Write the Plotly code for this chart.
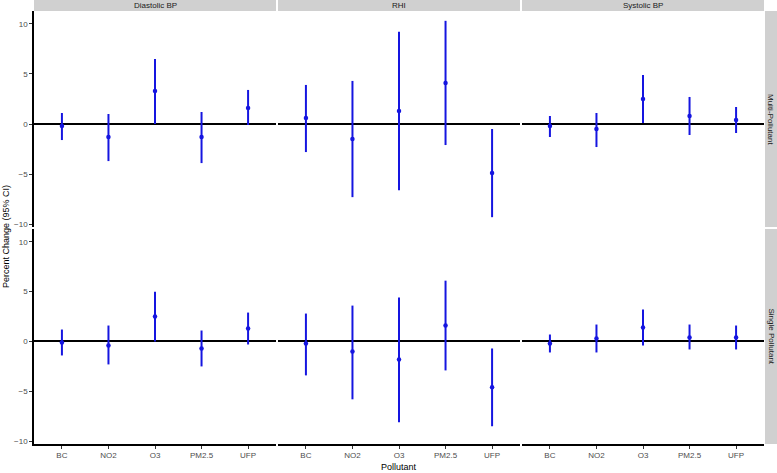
import plotly.graph_objects as go

pollutants = ["BC", "NO2", "O3", "PM2.5", "UFP"]
outcomes = ["Diastolic BP", "RHI", "Systolic BP"]
models = ["Multi-Pollutant", "Single Pollutant"]

# multi-pollutant models
dia_multi_est = [-0.2, -1.3, 3.3, -1.3, 1.6]
dia_multi_lo = [-1.6, -3.7, 0.0, -3.9, -0.1]
dia_multi_hi = [1.1, 1.0, 6.5, 1.2, 3.4]

rhi_multi_est = [0.6, -1.5, 1.3, 4.1, -4.9]
rhi_multi_lo = [-2.8, -7.3, -6.6, -2.1, -9.3]
rhi_multi_hi = [3.9, 4.3, 9.2, 10.3, -0.5]

sys_multi_est = [-0.2, -0.5, 2.5, 0.8, 0.4]
sys_multi_lo = [-1.3, -2.3, 0.1, -1.1, -0.9]
sys_multi_hi = [0.8, 1.1, 4.9, 2.7, 1.7]

# single-pollutant models
dia_single_est = [-0.1, -0.4, 2.5, -0.7, 1.3]
dia_single_lo = [-1.4, -2.3, 0.0, -2.5, -0.3]
dia_single_hi = [1.2, 1.6, 5.0, 1.1, 2.9]

rhi_single_est = [-0.2, -1.0, -1.8, 1.6, -4.6]
rhi_single_lo = [-3.4, -5.8, -8.1, -2.9, -8.5]
rhi_single_hi = [2.8, 3.6, 4.4, 6.1, -0.7]

sys_single_est = [-0.2, 0.3, 1.4, 0.4, 0.4]
sys_single_lo = [-1.1, -1.1, -0.4, -0.8, -0.8]
sys_single_hi = [0.7, 1.7, 3.2, 1.7, 1.6]

panels = {
    (0, 0): (dia_multi_est, dia_multi_lo, dia_multi_hi),
    (0, 1): (rhi_multi_est, rhi_multi_lo, rhi_multi_hi),
    (0, 2): (sys_multi_est, sys_multi_lo, sys_multi_hi),
    (1, 0): (dia_single_est, dia_single_lo, dia_single_hi),
    (1, 1): (rhi_single_est, rhi_single_lo, rhi_single_hi),
    (1, 2): (sys_single_est, sys_single_lo, sys_single_hi),
}

W, H = 777, 473
ML, MB = 34, 29
PW, PH = W - ML, H - MB
col_px = [(34, 276), (278, 520), (522, 764)]
row_px = [(11, 227), (229, 444)]
strip_x = (765, 777)
strip_y = (0, 11)


def fx(px):
    return (px - ML) / PW


def fy(py):
    return (H - MB - py) / PH


all_lo = min(min(v[1]) for v in panels.values())
all_hi = max(max(v[2]) for v in panels.values())
span = all_hi - all_lo
yrange = [all_lo - 0.05 * span, all_hi + 0.05 * span]

blue = "#1515e0"
font_name = "Liberation Sans, Arial"
tick_font = dict(family=font_name, size=8, color="#4d4d4d")

fig = go.Figure()
layout = {}
shapes = []
annotations = []

for (r, c), (est, lo, hi) in panels.items():
    idx = r * 3 + c + 1
    xa = "x" if idx == 1 else f"x{idx}"
    ya = "y" if idx == 1 else f"y{idx}"
    fig.add_trace(go.Scatter(
        x=pollutants, y=est, xaxis=xa, yaxis=ya, mode="markers",
        marker=dict(color=blue, size=4.5),
        error_y=dict(type="data", symmetric=False,
                     array=[h - e for h, e in zip(hi, est)],
                     arrayminus=[e - l for e, l in zip(est, lo)],
                     color=blue, thickness=2, width=0),
        showlegend=False,
    ))
    left = c == 0
    bottom = r == 1
    layout["xaxis" if idx == 1 else f"xaxis{idx}"] = dict(
        domain=[fx(col_px[c][0]), fx(col_px[c][1])],
        anchor=ya, type="category", range=[-0.6, 4.6],
        showgrid=False, zeroline=False,
        showticklabels=bottom, ticks="outside" if bottom else "",
        ticklen=3, tickcolor="#333333",
        showline=bottom, linecolor="black", linewidth=1.5,
        tickfont=tick_font,
    )
    layout["yaxis" if idx == 1 else f"yaxis{idx}"] = dict(
        domain=[fy(row_px[r][1]), fy(row_px[r][0])],
        anchor=xa, range=yrange, tickvals=[-10, -5, 0, 5, 10],
        showgrid=False, zeroline=True, zerolinecolor="black", zerolinewidth=1.5,
        showticklabels=left, ticks="outside" if left else "",
        ticklen=3, tickcolor="#333333",
        showline=left, linecolor="black", linewidth=1.5,
        tickfont=tick_font,
    )

strip_fill = "#d0d0d0"
for c, name in enumerate(outcomes):
    shapes.append(dict(type="rect", xref="paper", yref="paper",
                       x0=fx(col_px[c][0]), x1=fx(col_px[c][1]),
                       y0=fy(strip_y[1]), y1=fy(strip_y[0]),
                       fillcolor=strip_fill, line=dict(width=0), layer="below"))
    annotations.append(dict(text=name, xref="paper", yref="paper",
                            x=fx(sum(col_px[c]) / 2), y=fy(sum(strip_y) / 2),
                            showarrow=False, xanchor="center", yanchor="middle",
                            font=dict(family=font_name, size=8, color="#1a1a1a")))

for r, name in enumerate(models):
    shapes.append(dict(type="rect", xref="paper", yref="paper",
                       x0=fx(strip_x[0]), x1=fx(strip_x[1]),
                       y0=fy(row_px[r][1]), y1=fy(row_px[r][0]),
                       fillcolor=strip_fill, line=dict(width=0), layer="below"))
    annotations.append(dict(text=name, xref="paper", yref="paper",
                            x=fx(sum(strip_x) / 2), y=fy(sum(row_px[r]) / 2),
                            showarrow=False, textangle=90,
                            xanchor="center", yanchor="middle",
                            font=dict(family=font_name, size=8, color="#1a1a1a")))

annotations.append(dict(text="Pollutant", xref="paper", yref="paper",
                        x=fx(399), y=fy(467), showarrow=False,
                        xanchor="center", yanchor="middle",
                        font=dict(family=font_name, size=9, color="black")))
annotations.append(dict(text="Percent Change (95% CI)", xref="paper", yref="paper",
                        x=fx(6), y=fy(237), showarrow=False, textangle=-90,
                        xanchor="center", yanchor="middle",
                        font=dict(family=font_name, size=9, color="black")))

fig.update_layout(
    **layout,
    shapes=shapes,
    annotations=annotations,
    width=W, height=H,
    margin=dict(l=ML, r=0, t=0, b=MB),
    plot_bgcolor="white", paper_bgcolor="white",
)

# drop the default page margin so the figure sits at the window corner
fig.write_html("out.html", config={"displayModeBar": False},
               post_script="document.body.style.margin='0';document.body.style.overflow='hidden';")
